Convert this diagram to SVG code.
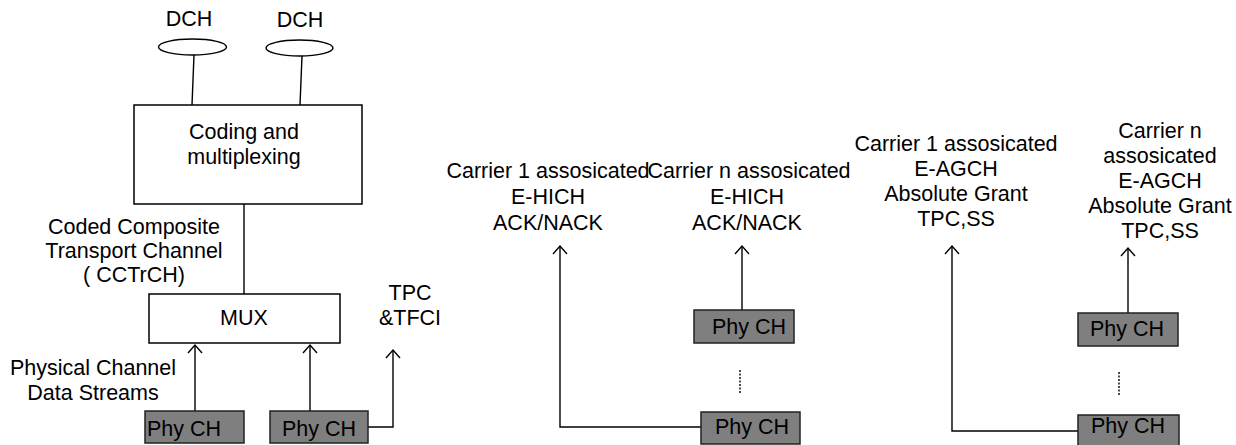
<svg xmlns="http://www.w3.org/2000/svg" width="1236" height="445" viewBox="0 0 1236 445">
<style>
text{font-family:"Liberation Sans",Arial,sans-serif;font-size:21.5px;fill:#000}
.c{text-anchor:middle}
.box{fill:#fff;stroke:#000;stroke-width:1.5}
.phy{fill:#7f7f7f;stroke:#222;stroke-width:1.5}
.ln{fill:none;stroke:#000;stroke-width:1.4}
.dot{fill:none;stroke:#000;stroke-width:1.4;stroke-dasharray:2 1.5}
.ell{fill:#fff;stroke:#000;stroke-width:1.4}
</style>
<defs>
<marker id="arr" markerUnits="userSpaceOnUse" markerWidth="20" markerHeight="20" viewBox="-10 -10 20 20" refX="0" refY="0" orient="auto">
<path d="M-8,-7 L0,0 L-8,7" fill="none" stroke="#000" stroke-width="1.4"/>
</marker>
</defs>

<g id="connectors">
<line class="ln" x1="194" y1="55" x2="192" y2="105"/>
<line class="ln" x1="302" y1="56" x2="300" y2="105"/>
<line class="ln" x1="244" y1="204" x2="244" y2="294"/>
<line class="ln" x1="195" y1="411" x2="195" y2="345" marker-end="url(#arr)"/>
<line class="ln" x1="310" y1="411" x2="310" y2="345" marker-end="url(#arr)"/>
<polyline class="ln" points="368,427 393,427 393,350" marker-end="url(#arr)"/>
<polyline class="ln" points="701,427 560,427 560,246" marker-end="url(#arr)"/>
<line class="ln" x1="742" y1="310" x2="742" y2="246" marker-end="url(#arr)"/>
<line class="dot" x1="740" y1="370" x2="740" y2="393"/>
<polyline class="ln" points="1078,431 952,431 952,246" marker-end="url(#arr)"/>
<line class="ln" x1="1128" y1="313" x2="1128" y2="248" marker-end="url(#arr)"/>
<line class="dot" x1="1119" y1="372" x2="1119" y2="396"/>
</g>

<g id="dch1">
<text class="c" x="189" y="26">DCH</text>
<ellipse class="ell" cx="192.5" cy="47" rx="34" ry="8"/>
</g>
<g id="dch2">
<text class="c" x="300" y="27">DCH</text>
<ellipse class="ell" cx="299.5" cy="48" rx="33.5" ry="8"/>
</g>

<g id="coding">
<rect class="box" x="134" y="105" width="228" height="99"/>
<text class="c" x="244" y="139">Coding and</text>
<text class="c" x="244" y="164">multiplexing</text>
</g>

<g id="cctrch-label">
<text class="c" x="134" y="234">Coded Composite</text>
<text class="c" x="134" y="258">Transport Channel</text>
<text class="c" x="134" y="282">( CCTrCH)</text>
</g>

<g id="mux">
<rect class="box" x="149" y="294" width="191" height="49"/>
<text class="c" x="244" y="325">MUX</text>
</g>

<g id="pcds-label">
<text class="c" x="93" y="375">Physical Channel</text>
<text class="c" x="93" y="400">Data Streams</text>
</g>

<g id="tpc-label">
<text class="c" x="410" y="300">TPC</text>
<text class="c" x="410" y="325">&amp;TFCI</text>
</g>

<g id="phy1">
<rect class="phy" x="145" y="411" width="99" height="32"/>
<text x="147" y="436">Phy CH</text>
</g>
<g id="phy2">
<rect class="phy" x="270" y="411" width="98" height="32"/>
<text class="c" x="319" y="436">Phy CH</text>
</g>

<g id="ehich1-label">
<text class="c" x="548" y="178">Carrier 1 assosicated</text>
<text class="c" x="548" y="204">E-HICH</text>
<text class="c" x="548" y="230">ACK/NACK</text>
</g>
<g id="ehichn-label">
<text class="c" x="749" y="178">Carrier n assosicated</text>
<text class="c" x="747" y="204">E-HICH</text>
<text class="c" x="747" y="230">ACK/NACK</text>
</g>
<g id="phy3">
<rect class="phy" x="694" y="310" width="100" height="33"/>
<text class="c" x="749" y="334">Phy CH</text>
</g>
<g id="phy4">
<rect class="phy" x="701" y="412" width="99" height="32"/>
<text class="c" x="752" y="434">Phy CH</text>
</g>

<g id="eagch1-label">
<text class="c" x="956" y="151">Carrier 1 assosicated</text>
<text class="c" x="956" y="176">E-AGCH</text>
<text class="c" x="956" y="201">Absolute Grant</text>
<text class="c" x="956" y="226">TPC,SS</text>
</g>
<g id="eagchn-label">
<text class="c" x="1160" y="138">Carrier n</text>
<text class="c" x="1160" y="163">assosicated</text>
<text class="c" x="1160" y="188">E-AGCH</text>
<text class="c" x="1160" y="213">Absolute Grant</text>
<text class="c" x="1160" y="238">TPC,SS</text>
</g>
<g id="phy5">
<rect class="phy" x="1078" y="313" width="100" height="33"/>
<text class="c" x="1127" y="336">Phy CH</text>
</g>
<g id="phy6">
<rect class="phy" x="1078" y="415" width="101" height="32"/>
<text class="c" x="1128" y="433">Phy CH</text>
</g>
</svg>
